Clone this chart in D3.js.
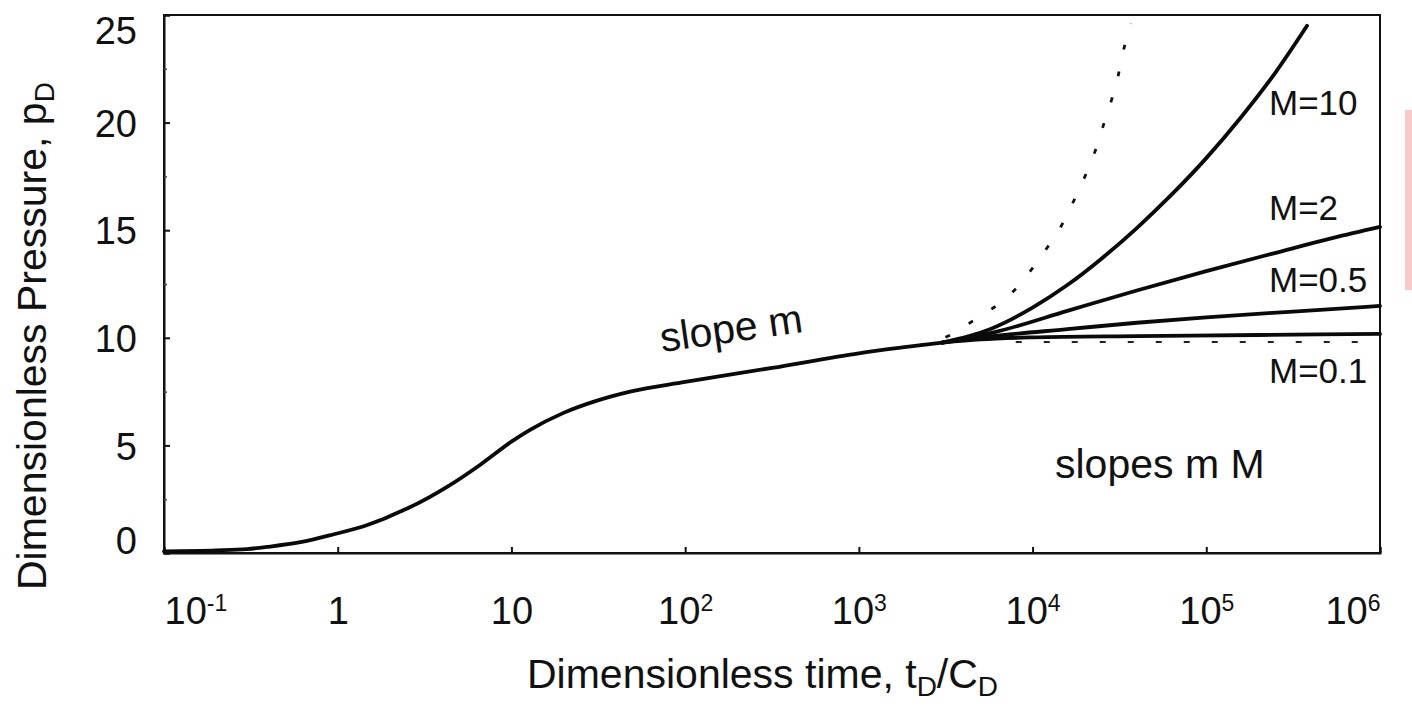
<!DOCTYPE html>
<html>
<head>
<meta charset="utf-8">
<script src="https://cdn.jsdelivr.net/npm/d3@7"></script>
<style>
  html, body { margin: 0; padding: 0; background: #fff; }
  svg { display: block; }
  text { font-family: "Liberation Sans", Arial, sans-serif; fill: #111; }
</style>
</head>
<body>
<svg id="chart" width="1412" height="714"></svg>
<script>
// ---- data ----
const xTickValues = [0.1, 1, 10, 100, 1000, 10000, 100000, 1000000];
const xTickBase   = ["10", "1", "10", "10", "10", "10", "10", "10"];
const xTickSup    = ["-1", "", "", "2", "3", "4", "5", "6"];
const yTickValues = [0, 5, 10, 15, 20, 25];
const yMinorTicks = [2.5, 7.5, 12.5, 17.5, 22.5];

// main curve (slope m), before the boundary effect
const mainT = [0.1, 0.2, 0.3, 0.39, 0.61, 0.94, 1.48, 1.75, 2.29, 2.72, 4.26, 6.59, 10.2, 12.8, 19.8, 31.1, 48.2, 100, 316, 1000, 1780, 3020];
const mainP = [0.08, 0.12, 0.18, 0.28, 0.5, 0.86, 1.3, 1.52, 1.93, 2.2, 3.07, 4.09, 5.22, 5.72, 6.5, 7.08, 7.5, 7.95, 8.6, 9.28, 9.55, 9.78];

// branches for the mobility ratio M
const m10T  = [3020, 5690, 10000, 15850, 25120, 39810, 63100, 100000, 158500, 251200, 380200];
const m10P  = [9.78, 10.4, 11.4, 12.45, 13.7, 15.1, 16.65, 18.35, 20.25, 22.35, 24.5];
const m2T   = [3020, 6310, 15850, 39810, 100000, 251200, 537000, 1000000];
const m2P   = [9.78, 10.3, 11.25, 12.2, 13.1, 13.95, 14.64, 15.15];
const m05T  = [3020, 6310, 15850, 39810, 100000, 316200, 1000000];
const m05P  = [9.78, 10.1, 10.4, 10.7, 10.95, 11.22, 11.48];
const m01T  = [3020, 5010, 10000, 39810, 200000, 1000000];
const m01P  = [9.78, 9.93, 10.02, 10.08, 10.13, 10.18];

// dotted steep curve
const dotT = [2240, 3500, 4800, 6500, 8300, 10000, 12100, 14200, 16400, 18800, 21700, 23800, 26100, 28700, 31000, 32700, 35500, 37000];
const dotP = [9.65, 10.2, 10.92, 11.62, 12.41, 13.24, 14.17, 15.01, 15.99, 17.01, 18.17, 19.05, 20.12, 21.14, 22.12, 23.05, 24.16, 24.6];

// dashed flat line
const flatT = [8000, 750000];
const flatP = [9.8, 9.8];

const curveLabels = ["M=10", "M=2", "M=0.5", "M=0.1"];

// ---- layout ----
const svg = d3.select("#chart");
const L = 164, R = 1380, T = 15, B = 553;
const x = d3.scaleLog().domain([0.1, 1e6]).range([L, R]);
const y = d3.scaleLinear().domain([0, 25]).range([B, T]);
const labelBaselines = [115, 220, 292, 383];   // pixel baselines for curve labels

// pink mark at the right margin
svg.append("rect").attr("x", 1405).attr("y", 110).attr("width", 8).attr("height", 180)
   .attr("fill", "#f9c9c9");

// frame
svg.append("rect").attr("x", L).attr("y", T).attr("width", R - L).attr("height", B - T)
   .attr("fill", "none").attr("stroke", "#111").attr("stroke-width", 2);

// y axis
const gy = svg.append("g").attr("transform", `translate(${L},0)`)
  .call(d3.axisLeft(y).tickValues(yTickValues).tickSize(-6).tickPadding(27).tickFormat(d3.format("d")));
gy.select(".domain").attr("stroke", "#111").attr("stroke-width", 2);
gy.selectAll(".tick line").attr("stroke", "#111").attr("stroke-width", 2);
gy.selectAll(".tick text")
  .attr("font-size", 38).attr("font-family", "Liberation Sans, Arial, sans-serif").attr("fill", "#111")
  .attr("dy", d => d === 25 ? "0.74em" : (d === 0 ? "0" : "0.36em"));
const gyMinor = svg.append("g").attr("transform", `translate(${L},0)`)
  .call(d3.axisLeft(y).tickValues(yMinorTicks).tickSize(-3).tickFormat(""));
gyMinor.select(".domain").remove();
gyMinor.selectAll(".tick line").attr("stroke", "#444").attr("stroke-width", 1.5);

// x axis
const gx = svg.append("g").attr("transform", `translate(0,${B})`)
  .call(d3.axisBottom(x).tickValues(xTickValues).tickSize(-6).tickPadding(36).tickFormat(() => ""));
gx.select(".domain").attr("stroke", "#111").attr("stroke-width", 2);
gx.selectAll(".tick line").attr("stroke", "#111").attr("stroke-width", 2);
gx.selectAll(".tick text").each(function(d, i) {
  const t = d3.select(this);
  t.text(null)
   .attr("font-size", 38).attr("font-family", "Liberation Sans, Arial, sans-serif").attr("fill", "#111")
   .attr("y", 71).attr("dy", 0).attr("x", 0)
   .attr("text-anchor", i === 0 ? "start" : (i === xTickValues.length - 1 ? "end" : "middle"));
  t.append("tspan").text(xTickBase[i]);
  if (xTickSup[i]) t.append("tspan").attr("font-size", 23).attr("dy", -13).text(xTickSup[i]);
});

// lines
const line = d3.line().x(d => x(d[0])).y(d => y(d[1])).curve(d3.curveMonotoneX);
const zip = (a, b) => a.map((v, i) => [v, b[i]]);
const plot = svg.append("g");

plot.append("path").datum(zip(flatT, flatP)).attr("d", line)
  .attr("fill", "none").attr("stroke", "#222").attr("stroke-width", 2).attr("stroke-dasharray", "6,22");
plot.append("path").datum(zip(dotT, dotP)).attr("d", line)
  .attr("fill", "none").attr("stroke", "#111").attr("stroke-width", 2.8).attr("stroke-dasharray", "5,22");

[[mainT, mainP], [m10T, m10P], [m2T, m2P], [m05T, m05P], [m01T, m01P]].forEach(([tt, pp]) => {
  plot.append("path").datum(zip(tt, pp)).attr("d", line)
    .attr("fill", "none").attr("stroke", "#0a0a0a").attr("stroke-width", 3.8)
    .attr("stroke-linejoin", "round").attr("stroke-linecap", "round");
});

// curve labels
const lab = svg.append("g").attr("font-size", 35);
curveLabels.forEach((s, i) => {
  lab.append("text").attr("x", 1269).attr("y", labelBaselines[i]).text(s);
});

// annotations
svg.append("text").attr("font-size", 41)
  .attr("transform", `translate(662,352) rotate(-8)`).text("slope m");
svg.append("text").attr("font-size", 41).attr("x", 1055).attr("y", 478).text("slopes m M");

// axis titles
const xt = svg.append("text").attr("font-size", 41).attr("x", 527).attr("y", 688);
xt.append("tspan").text("Dimensionless time, t");
xt.append("tspan").attr("font-size", 28).attr("dy", 8).text("D");
xt.append("tspan").attr("dy", -8).text("/C");
xt.append("tspan").attr("font-size", 28).attr("dy", 8).text("D");

const yt = svg.append("text").attr("font-size", 41)
  .attr("transform", "translate(46,590) rotate(-90)");
yt.append("tspan").text("Dimensionless Pressure, p");
yt.append("tspan").attr("font-size", 28).attr("dy", 8).text("D");
</script>
</body>
</html>
